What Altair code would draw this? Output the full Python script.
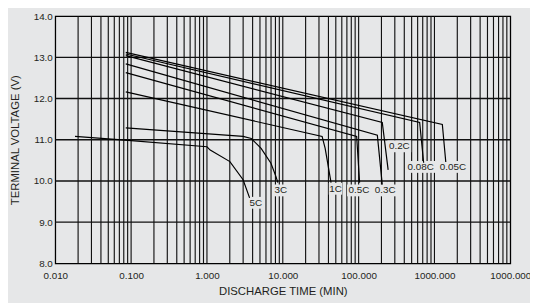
import altair as alt
import pandas as pd

BG = "#e6e7e8"
INK = "#231f20"
FONT = "Liberation Sans"

# ---- data ----
series_names = ["5C", "3C", "1C", "0.5C", "0.3C", "0.2C", "0.08C", "0.05C"]

t_5C = [0.0182, 0.0828, 1.0, 1.104, 2.007, 2.996, 3.65]
v_5C = [11.08, 10.99, 10.83, 10.75, 10.47, 10.03, 9.59]
t_3C = [0.085, 2.996, 3.84, 5.18, 6.98, 8.11, 8.61]
v_3C = [11.29, 11.08, 11.03, 10.79, 10.43, 10.11, 9.96]
t_1C = [0.085, 33.0, 36.2, 43.3]
v_1C = [12.16, 11.08, 10.79, 9.96]
t_05C = [0.085, 94.2, 103.0]
v_05C = [12.63, 11.08, 9.96]
t_03C = [0.085, 176.5, 205.0]
v_03C = [12.84, 11.11, 9.91]
t_02C = [0.085, 205.0, 245.0]
v_02C = [13.04, 11.42, 10.27]
t_008C = [0.085, 638.0, 720.0]
v_008C = [13.08, 11.42, 10.44]
t_005C = [0.085, 1270.0, 1410.0]
v_005C = [13.12, 11.37, 10.46]

label_t = [4.42, 9.4, 49.5, 101.0, 224.0, 344.0, 658.0, 1750.0]
label_v = [9.47, 9.77, 9.81, 9.77, 9.77, 10.84, 10.34, 10.34]

x_ticks = [0.01, 0.1, 1, 10, 100, 1000, 10000]
x_tick_labels = ["0.010", "0.100", "1.000", "10.000", "100.000", "1000.000", "1000.000"]
y_ticks = [8, 9, 10, 11, 12, 13, 14]
y_grid = [9, 10, 11, 12, 13]

# ---- tables ----
curve_t = [t_5C, t_3C, t_1C, t_05C, t_03C, t_02C, t_008C, t_005C]
curve_v = [v_5C, v_3C, v_1C, v_05C, v_03C, v_02C, v_008C, v_005C]
rows = []
for name, ts, vs in zip(series_names, curve_t, curve_v):
    for i, (t, v) in enumerate(zip(ts, vs)):
        rows.append({"series": name, "t": t, "v": v, "i": i})
curves = pd.DataFrame(rows)


def box_path(label):
    w = len(label) * 5.3 + 3
    h = 6
    return f"M{-w/2},{-h}H{w/2}V{h}H{-w/2}Z"


labels = pd.DataFrame({
    "label": series_names,
    "t": label_t,
    "v": label_v,
    "box": [box_path(s) for s in series_names],
})

x_grid = [k * 10 ** n for n in range(-2, 4) for k in range(1, 10)]
x_grid = [g for g in x_grid if 0.01 < g < 10000]
vgrid = pd.DataFrame({"g": x_grid})
hgrid = pd.DataFrame({"g": y_grid})

xscale = alt.Scale(type="log", domain=[0.01, 10000], nice=False)
yscale = alt.Scale(domain=[8, 14], nice=False, zero=False)

label_expr = "[" + ",".join(f"'{s}'" for s in x_tick_labels) + "][round(log(datum.value)/LN10)+2]"

x_axis = alt.Axis(
    values=x_ticks, labelExpr=label_expr, ticks=False, domain=False, grid=False,
    labelFont=FONT, labelFontSize=10, labelColor=INK, labelPadding=7,
    labelOverlap=False, labelBound=False, labelFlush=False,
    title="DISCHARGE TIME (MIN)", titleFont=FONT, titleFontSize=11.5,
    titleFontWeight="normal", titleColor=INK, titlePadding=6,
)
y_axis = alt.Axis(
    values=y_ticks, format=".1f", ticks=False, domain=False, grid=False,
    labelFont=FONT, labelFontSize=10, labelColor=INK, labelPadding=3,
    title="TERMINAL VOLTAGE (V)", titleFont=FONT, titleFontSize=11.5,
    titleFontWeight="normal", titleColor=INK, titlePadding=13,
)

X = lambda f: alt.X(f, scale=xscale, axis=x_axis)
Y = lambda f: alt.Y(f, scale=yscale, axis=y_axis)

vlines = alt.Chart(vgrid).mark_rule(color="#111111", strokeWidth=1.15).encode(x=X("g:Q"))
hlines = alt.Chart(hgrid).mark_rule(color="#111111", strokeWidth=1.4).encode(y=Y("g:Q"))

boxes = alt.Chart(labels).mark_point(filled=True, color=BG, opacity=1, strokeWidth=0).encode(
    x=X("t:Q"), y=Y("v:Q"), shape=alt.Shape("box:N", scale=None), size=alt.value(4)
)

lines = alt.Chart(curves).mark_line(color="#000000", strokeWidth=1.2).encode(
    x=X("t:Q"), y=Y("v:Q"), detail="series:N", order="i:Q"
)

texts = alt.Chart(labels).mark_text(
    font=FONT, fontSize=10, color=INK, align="center", baseline="middle"
).encode(x=X("t:Q"), y=Y("v:Q"), text="label:N")

chart = alt.layer(vlines, hlines, boxes, lines, texts).properties(
    width=462, height=251,
    autosize=alt.AutoSizeParams(type="none"),
    padding={"left": 48, "top": 6, "right": 20, "bottom": 38},
    background=BG,
).configure_view(stroke="#000000", strokeWidth=1.3)

chart.save("out.html", embed_options={"renderer": "svg", "actions": False})
